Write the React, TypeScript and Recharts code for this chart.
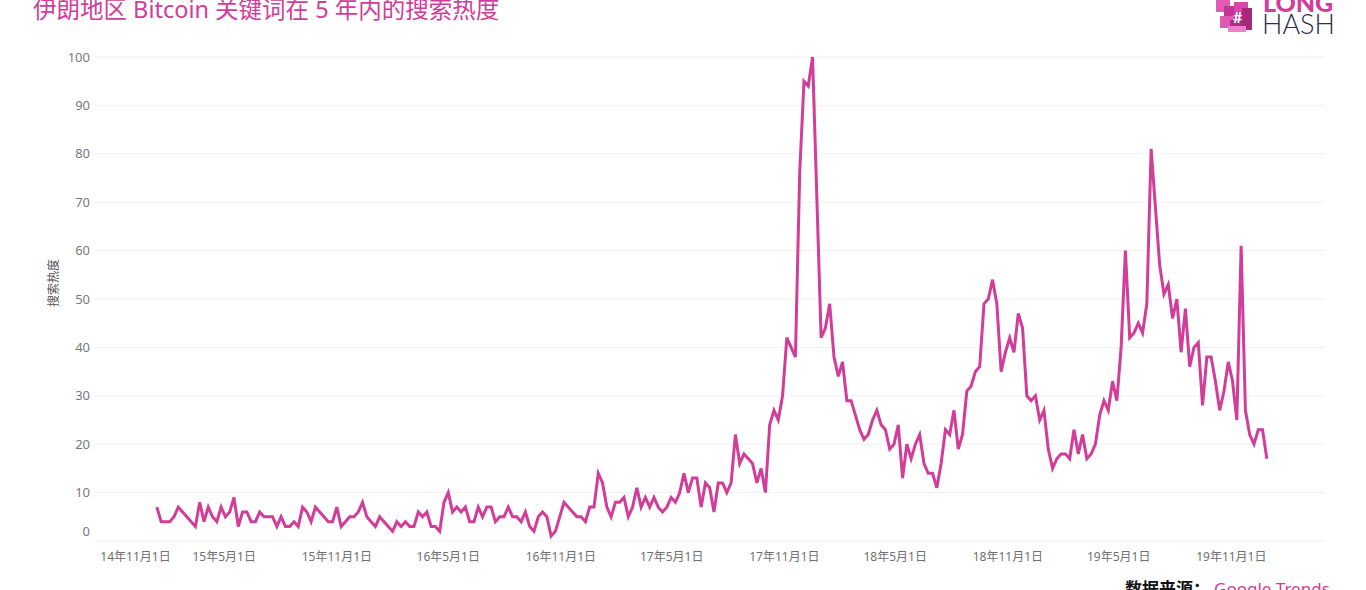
import React from "react";
import { LineChart, Line, XAxis, YAxis, CartesianGrid } from "recharts";

// weekly Google Trends values, Iran, keyword "Bitcoin" (first week 2015-01-11)
const heat2015 = [7, 4, 4, 4, 5, 7, 6, 5, 4, 3, 8, 4, 7, 5, 4, 7, 5, 6, 9, 3, 6, 6, 4, 4, 6, 5, 5, 5, 3, 5, 3, 3, 4, 3, 7, 6, 4, 7, 6, 5, 4, 4, 7, 3, 4, 5, 5, 6, 8, 5, 4];
const heat2016 = [3, 5, 4, 3, 2, 4, 3, 4, 3, 3, 6, 5, 6, 3, 3, 2, 8, 10, 6, 7, 6, 7, 4, 4, 7, 5, 7, 7, 4, 5, 5, 7, 5, 5, 4, 6, 3, 2, 5, 6, 5, 1, 2, 5, 8, 7, 6, 5, 5, 4, 7, 7];
const heat2017 = [14, 12, 7, 5, 8, 8, 9, 5, 7, 11, 7, 9, 7, 9, 7, 6, 7, 9, 8, 10, 14, 10, 13, 13, 7, 12, 11, 6, 12, 12, 10, 12, 22, 16, 18, 17, 16, 12, 15, 10, 24, 27, 25, 30, 42, 40, 38, 76, 95, 94, 100, 71];
const heat2018 = [42, 44, 49, 38, 34, 37, 29, 29, 26, 23, 21, 22, 25, 27, 24, 23, 19, 20, 24, 13, 20, 17, 20, 22, 16, 14, 14, 11, 16, 23, 22, 27, 19, 22, 31, 32, 35, 36, 49, 50, 54, 49, 35, 39, 42, 39, 47, 44, 30, 29, 30, 25];
const heat2019 = [27, 19, 15, 17, 18, 18, 17, 23, 18, 22, 17, 18, 20, 26, 29, 27, 33, 29, 40, 60, 42, 43, 45, 43, 49, 81, 69, 57, 51, 53, 46, 50, 39, 48, 36, 40, 41, 28, 38, 38, 33, 27, 31, 37, 33, 25, 61, 27, 22, 20, 23, 23, 17];

const firstWeek = Date.UTC(2015, 0, 11);
const WEEK = 7 * 24 * 3600 * 1000;

const xTickDates = [
  [2014, 11], [2015, 5], [2015, 11], [2016, 5], [2016, 11], [2017, 5],
  [2017, 11], [2018, 5], [2018, 11], [2019, 5], [2019, 11],
];
const yTicks = [0, 10, 20, 30, 40, 50, 60, 70, 80, 90, 100];

const PINK = "#d13d98";

const values = [...heat2015, ...heat2016, ...heat2017, ...heat2018, ...heat2019];
const data = values.map((v, i) => ({ t: firstWeek + i * WEEK, heat: v }));
const xTicks = xTickDates.map(([y, m]) => Date.UTC(y, m - 1, 1));

const fmtDate = (t: number) => {
  const d = new Date(t);
  return `${String(d.getUTCFullYear()).slice(2)}年${d.getUTCMonth() + 1}月1日`;
};

const XTick = (props: any) => {
  const { x, y, payload, index } = props;
  const first = index === 0;
  return (
    <text
      x={first ? x - 13 : x}
      y={y}
      dy="0.71em"
      textAnchor={first ? "start" : "middle"}
      fontSize={12}
      fill="#707070"
      fontFamily='"Noto Sans", "Noto Sans CJK SC", sans-serif'
    >
      {fmtDate(payload.value)}
    </text>
  );
};

const YTick = (props: any) => {
  const { x, y, payload } = props;
  return (
    <text
      x={x}
      y={payload.value === 0 ? y - 10 : y}
      dy="0.35em"
      textAnchor="end"
      fontSize={13}
      fill="#7a7a7a"
      fontFamily='"Noto Sans", sans-serif'
    >
      {payload.value}
    </text>
  );
};

function Logo() {
  const px = (l: number, t: number, w: number, h: number, c: string) => (
    <div style={{ position: "absolute", left: l, top: t, width: w, height: h, background: c }} />
  );
  return (
    <div style={{ position: "absolute", left: 1214, top: 0, width: 130, height: 40 }}>
      {px(2, 0, 14, 12, "#e25bb5")}
      {px(10, 6, 18, 14, "#c63497")}
      {px(6, 16, 14, 12, "#e05ab3")}
      {px(16, 20, 14, 12, "#b02c86")}
      {px(20, 2, 14, 10, "#d848a8")}
      {px(28, 8, 10, 22, "#a52a7c")}
      {px(14, 26, 18, 6, "#ee7fc9")}
      <div style={{ position: "absolute", left: 19, top: 7, color: "#fff", fontSize: 16, fontWeight: 700, fontFamily: "Lato, sans-serif" }}>#</div>
      <div style={{ position: "absolute", left: 49, top: -13, color: PINK, fontSize: 25, fontWeight: 900, fontFamily: "Lato, sans-serif" }}>LONG</div>
      <div style={{ position: "absolute", left: 48, top: 7, color: "#2a2e4f", fontSize: 27, fontWeight: 300, fontFamily: "Lato, sans-serif" }}>HASH</div>
    </div>
  );
}

export default function App() {
  return (
    <div style={{ position: "absolute", left: 0, top: 0, width: 1366, height: 590, background: "#fff", overflow: "hidden" }}>
      <div
        style={{
          position: "absolute", left: 33, top: -5, fontSize: 23.5, lineHeight: "28px", color: PINK,
          fontFamily: '"Noto Sans", "Noto Sans CJK SC", sans-serif', whiteSpace: "nowrap",
        }}
      >
        伊朗地区 Bitcoin 关键词在 5 年内的搜索热度
      </div>
      <Logo />
      <div
        style={{
          position: "absolute", left: 52, top: 283, transform: "translate(-50%, -50%) rotate(-90deg)",
          fontSize: 12, color: "#555", fontFamily: '"Noto Sans CJK SC", sans-serif', whiteSpace: "nowrap",
        }}
      >
        搜索热度
      </div>
      <LineChart width={1366} height={590} data={data} margin={{ top: 57, right: 41, bottom: 19, left: 35 }}>
        <CartesianGrid vertical={false} stroke="#f0f0f0" />
        <XAxis
          dataKey="t"
          type="number"
          domain={[Date.UTC(2014, 9, 2), Date.UTC(2020, 3, 2)]}
          ticks={xTicks}
          tick={<XTick />}
          tickLine={false}
          axisLine={false}
          tickSize={6}
          tickMargin={5}
          height={30}
        />
        <YAxis
          domain={[0, 100]}
          ticks={yTicks}
          tick={<YTick />}
          tickLine={false}
          axisLine={false}
          tickSize={3}
          width={60}
        />
        <Line type="linear" dataKey="heat" stroke={PINK} strokeWidth={3} dot={false} isAnimationActive={false} />
      </LineChart>
      <div
        style={{
          position: "absolute", left: 1125, top: 575, fontSize: 17, whiteSpace: "nowrap",
          fontFamily: '"Noto Sans", "Noto Sans CJK SC", sans-serif',
        }}
      >
        <span style={{ fontWeight: 700, color: "#111" }}>数据来源：</span>
        <span style={{ color: PINK, marginLeft: 4 }}>Google Trends</span>
      </div>
    </div>
  );
}
